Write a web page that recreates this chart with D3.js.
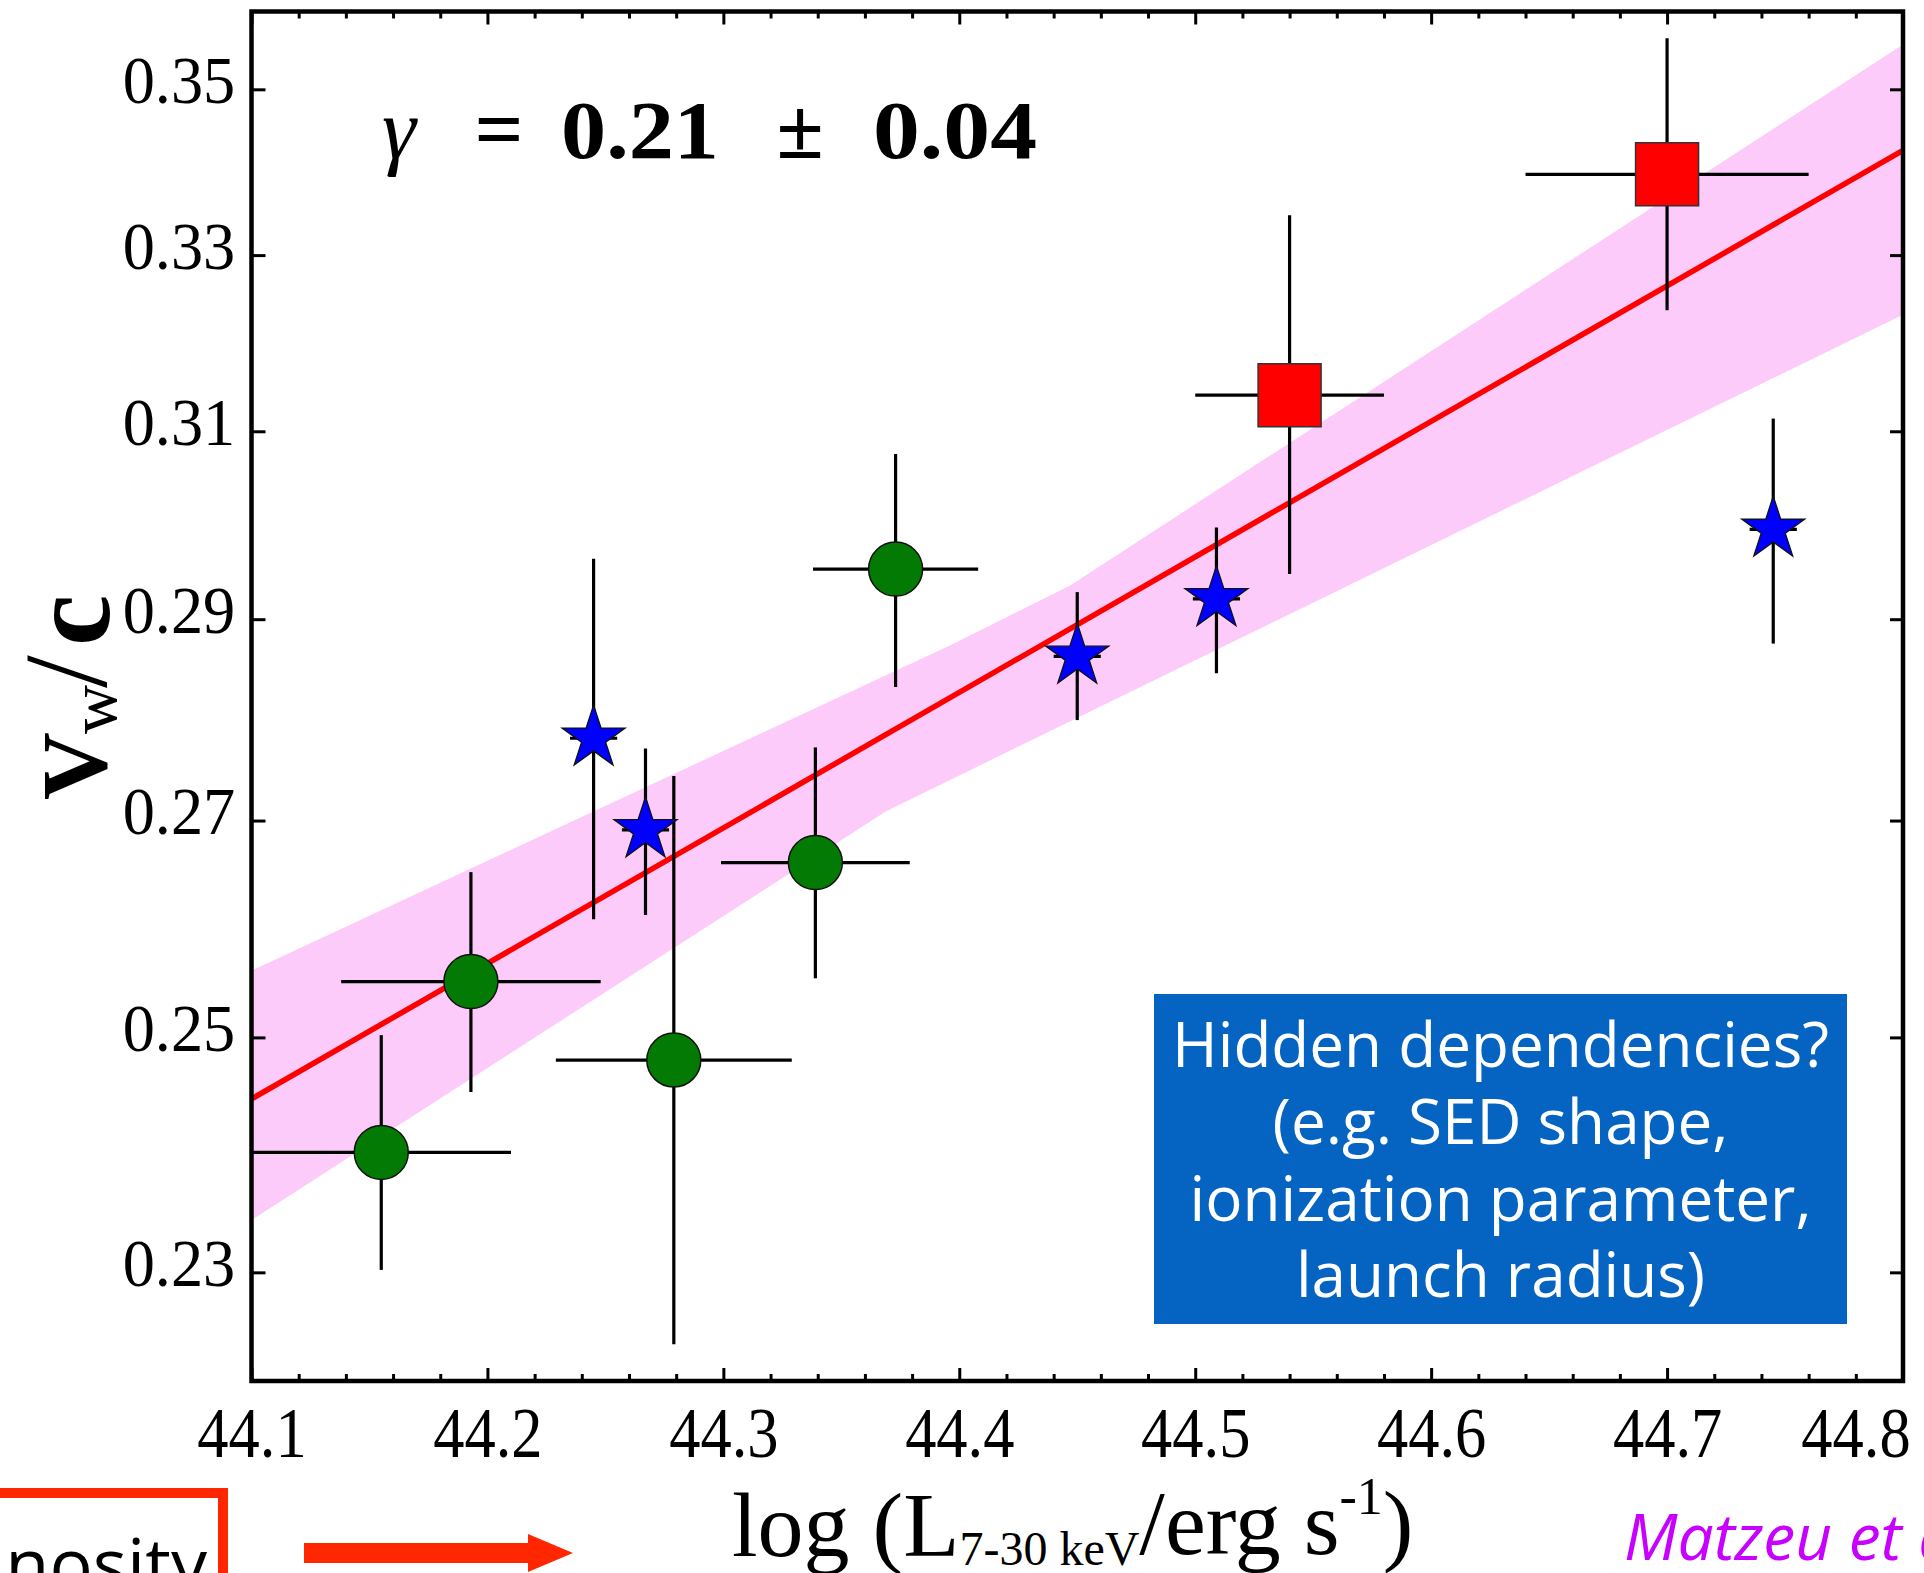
<!DOCTYPE html>
<html>
<head>
<meta charset="utf-8">
<script src="https://cdn.jsdelivr.net/npm/d3@7"></script>
<style>
  body { margin: 0; background: #fff; }
  svg { display: block; }
</style>
</head>
<body>
<svg width="1924" height="1573"></svg>
<script>
/* ticks */
const xTicks = [44.1, 44.2, 44.3, 44.4, 44.5, 44.6, 44.7, 44.8];
const yTicks = [0.23, 0.25, 0.27, 0.29, 0.31, 0.33, 0.35];

/* green circles */
const greenX = [44.155, 44.193, 44.279, 44.339, 44.373];
const greenY = [0.2400, 0.2550, 0.2480, 0.2660, 0.2952];
const greenXLo = [44.100, 44.138, 44.229, 44.299, 44.338];
const greenXHi = [44.210, 44.248, 44.329, 44.379, 44.408];
const greenYLo = [0.2302, 0.2452, 0.2242, 0.2553, 0.2831];
const greenYHi = [0.2502, 0.2651, 0.2743, 0.2771, 0.3075];

/* blue stars */
const starX = [44.245, 44.267, 44.450, 44.509, 44.745];
const starY = [0.2780, 0.2691, 0.2862, 0.2921, 0.2994];
const starXLo = [44.235, 44.257, 44.440, 44.499, 44.735];
const starXHi = [44.255, 44.277, 44.460, 44.519, 44.755];
const starYLo = [0.2607, 0.2611, 0.2798, 0.2845, 0.2875];
const starYHi = [0.2963, 0.2770, 0.2928, 0.2996, 0.3114];

/* red squares */
const squareX = [44.540, 44.700];
const squareY = [0.3140, 0.3396];
const squareXLo = [44.500, 44.640];
const squareXHi = [44.580, 44.760];
const squareYLo = [0.2947, 0.3236];
const squareYHi = [0.3347, 0.3564];

/* best fit and its confidence band */
const fitX = [44.1, 44.8];
const fitY = [0.2446, 0.3425];
const bandUpX = [44.1, 44.396, 44.447, 44.8];
const bandUpY = [0.2560, 0.2873, 0.2935, 0.3556];
const bandLoX = [44.1, 44.369, 44.8];
const bandLoY = [0.2343, 0.2709, 0.3231];

const svg = d3.select("svg");

const plotLeft = 251.5, plotRight = 1903, plotTop = 11.5, plotBottom = 1381;

const xScale = d3.scaleLinear().domain([44.1, 44.8]).range([plotLeft, plotRight]);
const yScale = d3.scaleLog().domain([0.2213, 0.3598]).range([plotBottom, plotTop]);

/* band */
var bandPts = bandUpX.map((d, i) => [xScale(d), yScale(bandUpY[i])]);
for (var i = bandLoX.length - 1; i >= 0; i--) {
	bandPts.push([xScale(bandLoX[i]), yScale(bandLoY[i])]);
}
svg.append("path")
	.attr("d", d3.line()(bandPts) + "Z")
	.attr("fill", "#fdcbfa");

/* fit line */
svg.append("path")
	.attr("d", d3.line().x((d, i) => xScale(d)).y((d, i) => yScale(fitY[i]))(fitX))
	.attr("fill", "none")
	.attr("stroke", "#ff0000")
	.attr("stroke-width", 5.5);

/* error bars */
var bars = svg.append("g").attr("stroke", "#000").attr("stroke-width", 3.2);
function errorBars(xs, ys, xlo, xhi, ylo, yhi) {
	for (var i = 0; i < xs.length; i++) {
		bars.append("line")
			.attr("x1", xScale(xlo[i])).attr("x2", xScale(xhi[i]))
			.attr("y1", yScale(ys[i])).attr("y2", yScale(ys[i]));
		bars.append("line")
			.attr("x1", xScale(xs[i])).attr("x2", xScale(xs[i]))
			.attr("y1", yScale(ylo[i])).attr("y2", yScale(yhi[i]));
	}
}
errorBars(greenX, greenY, greenXLo, greenXHi, greenYLo, greenYHi);
errorBars(starX, starY, starXLo, starXHi, starYLo, starYHi);
errorBars(squareX, squareY, squareXLo, squareXHi, squareYLo, squareYHi);

/* markers */
svg.append("g").selectAll("circle")
	.data(greenX)
	.join("circle")
	.attr("cx", d => xScale(d))
	.attr("cy", (d, i) => yScale(greenY[i]))
	.attr("r", 27)
	.attr("fill", "#037a03")
	.attr("stroke", "#111")
	.attr("stroke-width", 1.5);

svg.append("g").selectAll("path")
	.data(starX)
	.join("path")
	.attr("d", d3.symbol(d3.symbolStar).size(1230))
	.attr("transform", (d, i) => `translate(${xScale(d)},${yScale(starY[i])})`)
	.attr("fill", "#0000ff")
	.attr("stroke", "#111")
	.attr("stroke-width", 1.3);

svg.append("g").selectAll("path")
	.data(squareX)
	.join("path")
	.attr("d", d3.symbol(d3.symbolSquare).size(63 * 63))
	.attr("transform", (d, i) => `translate(${xScale(d)},${yScale(squareY[i])})`)
	.attr("fill", "#ff0000")
	.attr("stroke", "#333")
	.attr("stroke-width", 1.5);

/* axes */
const minorTicks = d3.range(44.1, 44.8001, 0.02).filter(v => Math.abs(v * 10 - Math.round(v * 10)) > 0.01);

function styleAxis(g) {
	g.select(".domain").remove();
	g.selectAll(".tick line").attr("stroke", "#000").attr("stroke-width", 3);
}

svg.append("g").attr("transform", `translate(0,${plotBottom})`)
	.call(d3.axisBottom(xScale).tickValues(minorTicks).tickSize(-7).tickFormat(""))
	.call(styleAxis);
svg.append("g").attr("transform", `translate(0,${plotTop})`)
	.call(d3.axisTop(xScale).tickValues(minorTicks).tickSize(-7).tickFormat(""))
	.call(styleAxis);
svg.append("g").attr("transform", `translate(0,${plotTop})`)
	.call(d3.axisTop(xScale).tickValues(xTicks).tickSize(-13).tickFormat(""))
	.call(styleAxis);
svg.append("g").attr("transform", `translate(${plotRight},0)`)
	.call(d3.axisRight(yScale).tickValues(yTicks).tickSize(-13).tickFormat(""))
	.call(styleAxis);

var xAxisG = svg.append("g").attr("transform", `translate(0,${plotBottom})`)
	.call(d3.axisBottom(xScale).tickValues(xTicks).tickSize(-13).tickFormat(d3.format(".1f")))
	.call(styleAxis);
/* last label is pushed left so it stays inside the picture */
xAxisG.selectAll(".tick text")
	.attr("y", 76).attr("dy", 0)
	.attr("x", d => d > 44.75 ? -54 : 0)
	.attr("transform", "scale(0.88,1)")
	.style("font-family", "'Liberation Serif', 'Times New Roman', serif")
	.style("font-size", "71px")
	.attr("fill", "#000");

var yAxisG = svg.append("g").attr("transform", `translate(${plotLeft},0)`)
	.call(d3.axisLeft(yScale).tickValues(yTicks).tickSize(-14).tickFormat(d3.format(".2f")))
	.call(styleAxis);
yAxisG.selectAll(".tick text")
	.attr("x", -17).attr("dy", 0).attr("y", 13)
	.attr("transform", "scale(0.96,1)")
	.style("font-family", "'Liberation Serif', 'Times New Roman', serif")
	.style("font-size", "67px")
	.attr("fill", "#000");

/* frame */
svg.append("rect")
	.attr("x", plotLeft).attr("y", plotTop)
	.attr("width", plotRight - plotLeft).attr("height", plotBottom - plotTop)
	.attr("fill", "none")
	.attr("stroke", "#000")
	.attr("stroke-width", 4.5);

/* gamma annotation */
const serif = "'Liberation Serif', 'Times New Roman', serif";
svg.append("text").attr("x", 382).attr("y", 158)
	.style("font-family", serif).style("font-size", "86px").style("font-style", "italic")
	.text("γ");
svg.append("text").attr("x", 499).attr("y", 158).attr("text-anchor", "middle")
	.style("font-family", serif).style("font-size", "86px").style("font-weight", "bold")
	.text("=");
svg.append("text").attr("x", 561).attr("y", 158)
	.attr("textLength", 158).attr("lengthAdjust", "spacingAndGlyphs")
	.style("font-family", serif).style("font-size", "82px").style("font-weight", "bold")
	.text("0.21");
svg.append("text").attr("x", 800).attr("y", 158).attr("text-anchor", "middle")
	.style("font-family", serif).style("font-size", "86px").style("font-weight", "bold")
	.text("±");
svg.append("text").attr("x", 873).attr("y", 158)
	.attr("textLength", 164).attr("lengthAdjust", "spacingAndGlyphs")
	.style("font-family", serif).style("font-size", "82px").style("font-weight", "bold")
	.text("0.04");

/* y label */
var yLabel = svg.append("text")
	.attr("transform", "translate(106,800) rotate(-90)")
	.style("font-family", serif);
yLabel.append("tspan").attr("x", 0).attr("y", 0)
	.style("font-size", "94px").style("font-weight", "bold").text("V");
yLabel.append("tspan").attr("x", 66).attr("y", 10)
	.style("font-size", "68px").text("w");
yLabel.append("tspan").attr("x", 112).attr("y", 0)
	.style("font-size", "118px").text("/");
yLabel.append("tspan").attr("x", 154).attr("y", 3)
	.style("font-size", "116px").style("font-weight", "bold").text("c");

/* x label */
var xLabel = svg.append("text").attr("x", 732).attr("y", 1556)
	.style("font-family", serif).style("font-size", "92px");
xLabel.append("tspan").text("log (L");
xLabel.append("tspan").attr("dy", 9).style("font-size", "48px").text("7-30 keV");
xLabel.append("tspan").attr("dy", -11).text("/erg s");
xLabel.append("tspan").attr("dy", -40).style("font-size", "52px").text("-1");
xLabel.append("tspan").attr("dy", 40).text(")");

/* blue note box */
const noteLines = ["Hidden dependencies?", "(e.g. SED shape,", "ionization parameter,", "launch radius)"];
svg.append("rect")
	.attr("x", 1154).attr("y", 994).attr("width", 693).attr("height", 330)
	.attr("fill", "#0563c1");
svg.append("g").selectAll("text")
	.data(noteLines)
	.join("text")
	.attr("x", 1500.5)
	.attr("y", (d, i) => 1067 + i * 76.8)
	.attr("text-anchor", "middle")
	.attr("fill", "#fff")
	.style("font-family", "'Open Sans', sans-serif")
	.style("font-size", "62px")
	.text(d => d);

/* bottom decorations */
svg.append("rect")
	.attr("x", -20).attr("y", 1493).attr("width", 243).attr("height", 200)
	.attr("fill", "#fff")
	.attr("stroke", "#ff2600")
	.attr("stroke-width", 10);
svg.append("text").attr("x", 207).attr("y", 1590).attr("text-anchor", "end")
	.style("font-family", "'Open Sans', sans-serif").style("font-size", "72px")
	.attr("fill", "#000")
	.text("Luminosity");

svg.append("rect")
	.attr("x", 304).attr("y", 1543).attr("width", 226).attr("height", 20)
	.attr("fill", "#ff2600");
svg.append("path")
	.attr("d", "M528,1534 L573,1553 L528,1572 Z")
	.attr("fill", "#ff2600");

svg.append("text").attr("x", 1624).attr("y", 1560)
	.style("font-family", "'Open Sans', sans-serif").style("font-size", "64px")
	.style("font-style", "italic")
	.attr("fill", "#c800ff")
	.text("Matzeu et al.");
</script>
</body>
</html>
